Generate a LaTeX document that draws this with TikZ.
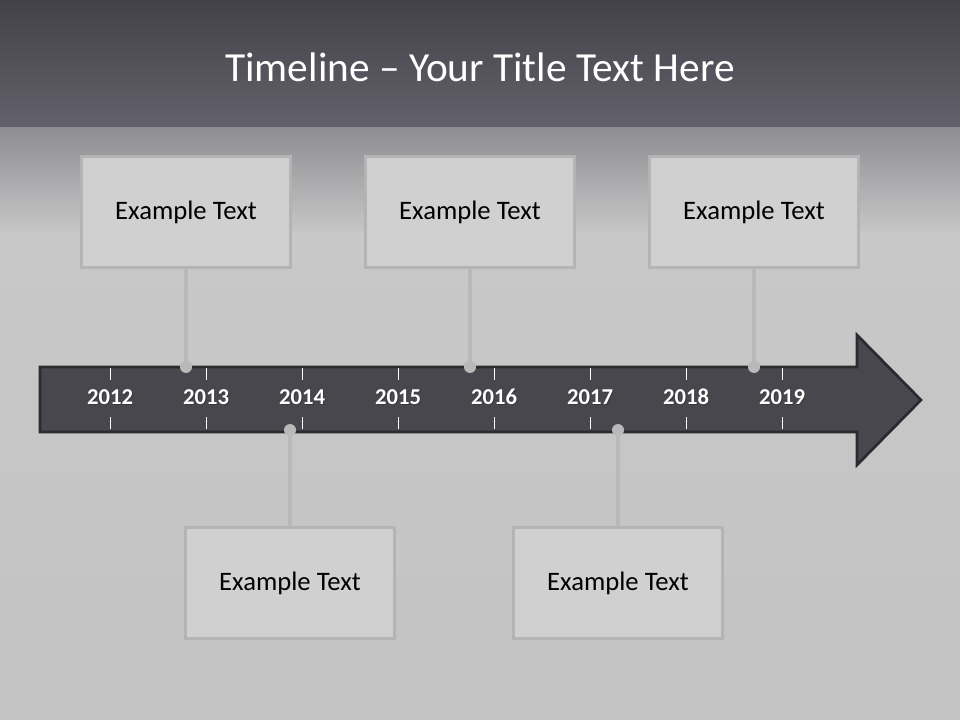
\documentclass[tikz,border=0pt]{standalone}
\usepackage{fontspec}
\setmainfont{Carlito}
\definecolor{topA}{HTML}{434248}
\definecolor{topB}{HTML}{63626C}
\definecolor{midA}{HTML}{8E8E93}
\definecolor{midB}{HTML}{C8C8C8}
\definecolor{lowA}{HTML}{C8C8C8}
\definecolor{lowB}{HTML}{C3C3C3}
\definecolor{arrowfill}{HTML}{48474D}
\definecolor{arrowline}{HTML}{2B2A2F}
\definecolor{boxfill}{HTML}{D0D0D0}
\definecolor{boxline}{HTML}{B4B4B4}
\definecolor{connc}{HTML}{B9B9B9}
\begin{document}
\begin{tikzpicture}[x=0.75pt,y=-0.75pt,
  box/.style={draw=boxline, line width=2.25pt, fill=boxfill, minimum width=156.75pt, minimum height=83.25pt, inner sep=0pt, font=\fontsize{20}{24}\selectfont, text=black},
  conn/.style={draw=connc, line width=3pt},
  dotm/.style={circle, fill=connc, minimum size=9pt, inner sep=0pt},
  tickm/.style={draw=white, line width=0.75pt},
  year/.style={text=white, font=\bfseries\fontsize{17}{20}\selectfont, inner sep=0pt},
  yearsh/.style={text=black!80, opacity=0.7, font=\bfseries\fontsize{17}{20}\selectfont, inner sep=0pt},
  title/.style={text=white, font=\fontsize{31}{37}\selectfont, inner sep=0pt}]
\useasboundingbox (0,0) rectangle (960,720);
% background
\shade[top color=topA, bottom color=topB] (0,0) rectangle (960,128);
\shade[top color=midA, bottom color=midB] (0,128) rectangle (960,235);
\shade[top color=lowA, bottom color=lowB] (0,235) rectangle (960,720);
% title
\node[title] (title) at (480,67) {Timeline – Your Title Text Here};
% arrow
\draw[fill=arrowfill, draw=arrowline, line width=2pt, line join=miter]
  (40,367) -- (857,367) -- (857,335) -- (921,400) -- (857,465) -- (857,432) -- (40,432) -- cycle;
% ticks and years
\foreach \x/\yr in {110/2012,206/2013,302/2014,398/2015,494/2016,590/2017,686/2018,782/2019}{
  \draw[tickm] (\x,368) -- (\x,380);
  \draw[tickm] (\x,417) -- (\x,429);
  \node[yearsh] (s\yr) at (\x+1.2,398.2) {\yr};
  \node[year] (y\yr) at (\x,397) {\yr};
}
% boxes
\node[box] (b1) at (186,212) {\raisebox{-1.5pt}{Example Text}};
\node[box] (b2) at (470,212) {\raisebox{-1.5pt}{Example Text}};
\node[box] (b3) at (754,212) {\raisebox{-1.5pt}{Example Text}};
\node[box] (b4) at (290,583) {\raisebox{-1.5pt}{Example Text}};
\node[box] (b5) at (618,583) {\raisebox{-1.5pt}{Example Text}};
% dots
\coordinate (d1) at (185,367);
\coordinate (d2) at (469,367);
\coordinate (d3) at (753,367);
\coordinate (d4) at (290,430);
\coordinate (d5) at (619,430);
\draw[conn] (b1.south) -- (b1.south |- d1);
\draw[conn] (b2.south) -- (b2.south |- d2);
\draw[conn] (b3.south) -- (b3.south |- d3);
\draw[conn] (b4.north) -- (b4.north |- d4);
\draw[conn] (b5.north) -- (b5.north |- d5);
\node[dotm] (c1) at (b1.south |- d1) {};
\node[dotm] (c2) at (b2.south |- d2) {};
\node[dotm] (c3) at (b3.south |- d3) {};
\node[dotm] (c4) at (b4.north |- d4) {};
\node[dotm] (c5) at (b5.north |- d5) {};
\end{tikzpicture}
\end{document}
